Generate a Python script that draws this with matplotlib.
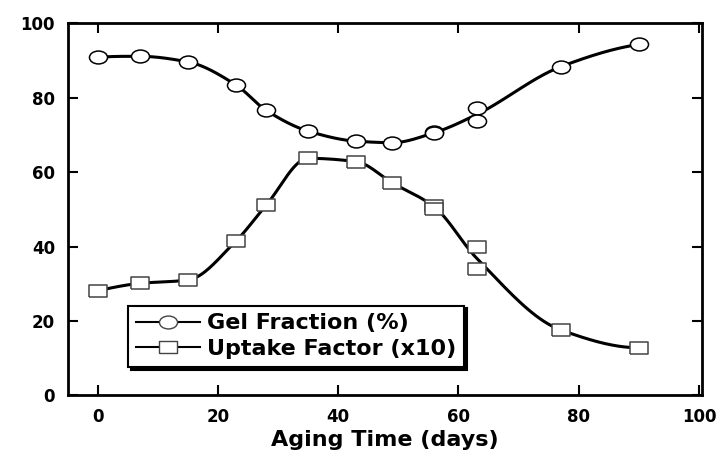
import numpy as np
import matplotlib.pyplot as plt
from matplotlib.path import Path
from matplotlib.transforms import Affine2D

plt.rcParams['font.family'] = ['DejaVu Sans']
plt.rcParams['font.weight'] = 'bold'

# data
days_gel = [0, 7, 15, 23, 28, 35, 43, 49, 56, 56, 63, 63, 77, 90]
gel = [90.8, 91.1, 89.6, 83.4, 76.6, 71.0, 68.3, 67.9, 70.8, 70.4, 77.1, 73.8, 88.3, 94.3]

days_up = [0, 7, 15, 23, 28, 35, 43, 49, 56, 56, 63, 63, 77, 90]
uptake = [28.1, 30.1, 31.0, 41.5, 51.1, 63.7, 62.8, 57.1, 51.0, 50.2, 39.8, 34.0, 17.6, 12.8]


def smooth_curve(x, y, xs):
    # average repeated x, then shape-preserving cubic (pchip)
    x = np.asarray(x, float)
    y = np.asarray(y, float)
    ux = np.unique(x)
    uy = np.array([y[x == v].mean() for v in ux])
    h = np.diff(ux)
    d = np.diff(uy) / h
    n = len(ux)
    m = np.zeros(n)
    for i in range(1, n - 1):
        if d[i - 1] * d[i] > 0:
            w1 = 2 * h[i] + h[i - 1]
            w2 = h[i] + 2 * h[i - 1]
            m[i] = (w1 + w2) / (w1 / d[i - 1] + w2 / d[i])
    m[0] = ((2 * h[0] + h[1]) * d[0] - h[0] * d[1]) / (h[0] + h[1])
    if np.sign(m[0]) != np.sign(d[0]):
        m[0] = 0
    m[-1] = ((2 * h[-1] + h[-2]) * d[-1] - h[-1] * d[-2]) / (h[-1] + h[-2])
    if np.sign(m[-1]) != np.sign(d[-1]):
        m[-1] = 0
    k = np.clip(np.searchsorted(ux, xs) - 1, 0, n - 2)
    t = (xs - ux[k]) / h[k]
    hk = h[k]
    h00 = 2 * t ** 3 - 3 * t ** 2 + 1
    h10 = t ** 3 - 2 * t ** 2 + t
    h01 = -2 * t ** 3 + 3 * t ** 2
    h11 = t ** 3 - t ** 2
    return h00 * uy[k] + h10 * hk * m[k] + h01 * uy[k + 1] + h11 * hk * m[k + 1]


xs = np.linspace(0, 90, 400)
gel_fit = smooth_curve(days_gel, gel, xs)
up_fit = smooth_curve(days_up, uptake, xs)

# markers are stretched horizontally in the original
oval = Path(Affine2D().scale(1.4, 1.0).transform(Path.unit_circle().vertices), Path.unit_circle().codes)
box = [(-1.4, -1), (1.4, -1), (1.4, 1), (-1.4, 1), (-1.4, -1)]

fig = plt.figure(figsize=(7.2, 4.55), dpi=100)
ax = fig.add_axes([0.094, 0.131, 0.881, 0.818])

ax.plot(xs, gel_fit, color='black', lw=2.2, zorder=2)
ax.plot(xs, up_fit, color='black', lw=2.2, zorder=2)
ax.plot(days_gel, gel, ls='none', marker=oval, ms=13, mfc='white', mec='black', mew=1.1, zorder=3)
ax.plot(days_up, uptake, ls='none', marker=box, ms=13, mfc='white', mec='#444444', mew=1.1, zorder=3)

h1, = ax.plot([], [], color='black', lw=1.5, marker=oval, ms=13, mfc='white', mec='#444444', mew=1.0)
h2, = ax.plot([], [], color='black', lw=1.5, marker=box, ms=13, mfc='white', mec='#444444', mew=1.0)
leg = ax.legend([h1, h2], ['Gel Fraction (%)', 'Uptake Factor (x10)'],
                loc='lower left', bbox_to_anchor=(0.095, 0.077), fancybox=False,
                shadow={'color': 'black', 'alpha': 1}, framealpha=1, edgecolor='black',
                handlelength=2.9, handletextpad=0.3, borderpad=0.35, labelspacing=0.25,
                borderaxespad=0, prop={'size': 16, 'weight': 'bold'})
leg.get_frame().set_linewidth(1.5)

ax.set_xlim(-5, 100.5)
ax.set_ylim(0, 100)
ax.set_xticks([0, 20, 40, 60, 80, 100])
ax.set_yticks([0, 20, 40, 60, 80, 100])
ax.tick_params(direction='in', length=7, width=1.5, labelsize=12, pad=9,
               top=True, right=True)
for s in ax.spines.values():
    s.set_linewidth(2)
for lab in ax.get_xticklabels() + ax.get_yticklabels():
    lab.set_fontweight('bold')
ax.set_xlabel('Aging Time (days)', fontsize=16, fontweight='bold', labelpad=3)

fig.savefig('out.png', dpi=100)
